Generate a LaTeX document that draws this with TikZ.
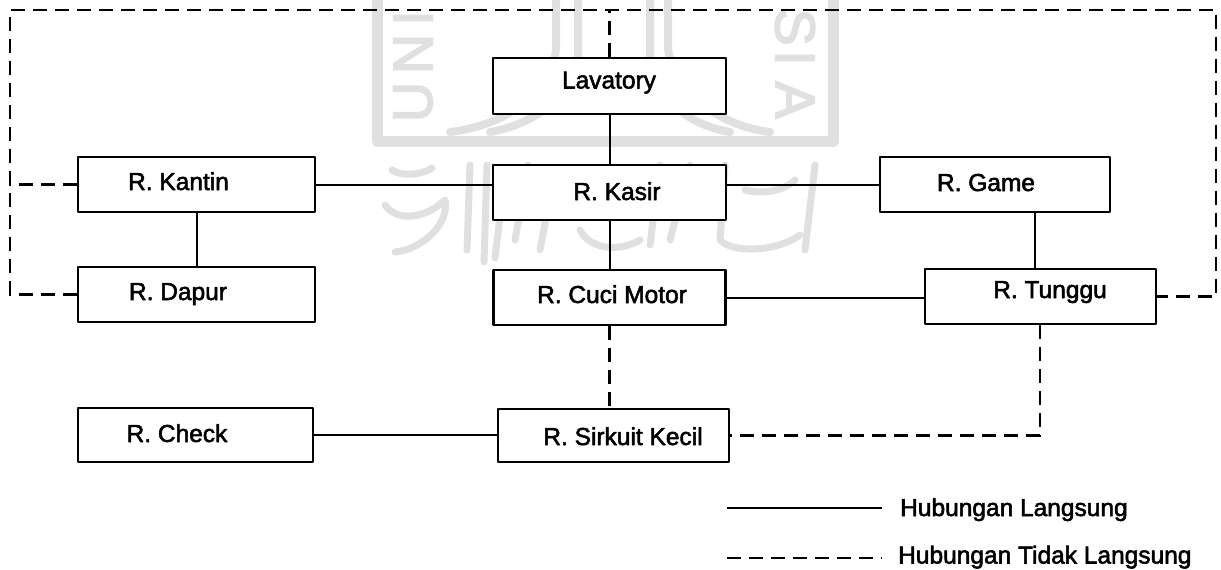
\documentclass[tikz,border=0pt]{standalone}
\usepackage{fontspec}
\setmainfont{Liberation Sans}[FakeBold=2.2]
\newfontfamily\wmfont{Liberation Sans}[FakeBold=3]
\newcommand{\lbl}[3]{\makebox[0pt]{\kern#1pt\raisebox{#2pt}[0pt][0pt]{#3}}}
\definecolor{wmgrey}{gray}{0.88}
\tikzset{
  room/.style={draw=black,line width=2.3pt,inner sep=0pt,line join=round,fill=white},
  direct/.style={draw=black,line width=2pt},
  indirect/.style={draw=black,line width=2.1pt,dash pattern=on 14pt off 8pt},
  legendtext/.style={inner sep=0pt,anchor=base west},
  wm/.style={draw=wmgrey,line width=8pt,line cap=round,line join=round},
  wmfine/.style={draw=wmgrey,line width=7pt,line cap=round,line join=round},
  wmtext/.style={text=wmgrey,inner sep=0pt,font=\wmfont\fontsize{56}{60}\selectfont}
}
\begin{document}
\begin{tikzpicture}[x=1pt,y=-1pt,font=\fontsize{24.5}{28}\selectfont]
\useasboundingbox (0,0) rectangle (1221,570);
% watermark: frame, emblem, letters, calligraphy
\draw[wm,line width=11pt] (377,0) -- (377,141) -- (833,141) -- (833,0);
\draw[wm] (556,0) -- (556,50) .. controls (550,90) and (510,125) .. (450,132);
\draw[wm] (578,0) -- (578,60) .. controls (570,100) and (530,125) .. (490,132);
\draw[wm] (650,0) -- (650,60) .. controls (655,100) and (690,125) .. (730,132);
\draw[wm] (668,0) -- (668,50) .. controls (675,90) and (715,125) .. (770,132);
\node[wmtext,rotate=90] (wu) at (413,102) {U};
\node[wmtext,rotate=90] (wn) at (413,54) {N};
\node[wmtext,rotate=90] (wi) at (413,18) {I};
\node[wmtext,rotate=-90] (ws) at (795,27) {S};
\node[wmtext,rotate=-90] (wj) at (795,58) {I};
\node[wmtext,rotate=-90] (wa) at (795,100) {A};
\draw[wmfine] (392,170) .. controls (400,176) and (420,176) .. (432,168);
\draw[wmfine] (385,205) .. controls (400,225) and (430,215) .. (445,200) .. controls (450,225) and (420,250) .. (395,252);
\draw[wmfine] (470,165) -- (467,250);
\draw[wmfine] (487,165) -- (484,262);
\draw[wmfine] (505,175) -- (495,258);
\draw[wmfine] (528,165) -- (515,240);
\draw[wmfine] (555,170) -- (540,250);
\draw[wmfine] (580,230) .. controls (590,250) and (620,252) .. (640,240);
\draw[wmfine] (660,165) -- (650,245);
\draw[wmfine] (690,165) -- (670,240);
\draw[wmfine] (725,165) -- (720,240) .. controls (735,255) and (780,250) .. (800,235);
\draw[wmfine] (745,190) .. controls (765,195) and (785,190) .. (795,180);
\draw[wmfine] (815,165) -- (805,250);
% rooms
\node[room,minimum width=233,minimum height=56] (lav) at (609.5,86) {\lbl{-1}{-2.5}{Lavatory}};
\node[room,minimum width=233,minimum height=55] (kasir) at (609.5,192.5) {\lbl{15}{-7.5}{R. Kasir}};
\node[room,minimum width=237,minimum height=55] (kantin) at (196.5,184.5) {\lbl{-36}{-5.5}{R. Kantin}};
\node[room,minimum width=237,minimum height=55] (dapur) at (196.5,294.5) {\lbl{-37}{-5.5}{R. Dapur}};
\node[room,minimum width=230,minimum height=55] (game) at (995,184.5) {\lbl{-18}{-6.5}{R. Game}};
\node[room,minimum width=231,minimum height=55] (tunggu) at (1040.5,296.5) {\lbl{19}{-1.5}{R. Tunggu}};
\node[room,minimum width=232,minimum height=55] (cuci) at (609.5,297.5) {\lbl{5}{-5.5}{R. Cuci Motor}};
\node[room,minimum width=231,minimum height=53] (sirkuit) at (613.5,435.5) {\lbl{19}{-9.5}{R. Sirkuit Kecil}};
\node[room,minimum width=235,minimum height=54] (check) at (195.5,435) {\lbl{-37}{-7}{R. Check}};
% legend text
\node[legendtext] (l1) at (900,516) {Hubungan Langsung};
\node[legendtext] (l2) at (898,563.5) {Hubungan Tidak Langsung};
% free corners
\coordinate (top) at (610,10);
\coordinate (tl) at (10,10);
\coordinate (tr) at (1216,10);
\coordinate (gt) at (1035,240);
\coordinate (tg) at (1040,380);
\coordinate (lv1) at (727,508);
\coordinate (lv2) at (882,508);
\coordinate (ld1) at (727,558);
\coordinate (ld2) at (882,558);
% direct
\draw[direct] (lav.south) -- (kasir.north);
\draw[direct] (kasir.south) -- (cuci.north);
\draw[direct] (kantin.east) -- (kantin.east -| kasir.west);
\draw[direct] (game.west) -- (game.west -| kasir.east);
\draw[direct] (kantin.south) -- (dapur.north);
\draw[direct] (gt |- game.south) -- (gt |- tunggu.north);
\draw[direct] (cuci.east) -- (cuci.east -| tunggu.west);
\draw[direct] (check.east) -- (check.east -| sirkuit.west);
\draw[direct] (lv1) -- (lv2);
% indirect
\draw[indirect] (lav.north) -- (lav.north |- top);
\draw[indirect] (kantin.west) -- (kantin.west -| tl) -- (tl) -- (tr) -- (tr |- tunggu.east) -- (tunggu.east);
\draw[indirect] (dapur.west) -- (dapur.west -| tl) -- (kantin.west -| tl);
\draw[indirect] (cuci.south) -- (cuci.south |- sirkuit.north);
\draw[indirect] (tg |- tunggu.south) -- (tg |- sirkuit.east) -- (sirkuit.east);
\draw[indirect] (ld1) -- (ld2);
\end{tikzpicture}
\end{document}
